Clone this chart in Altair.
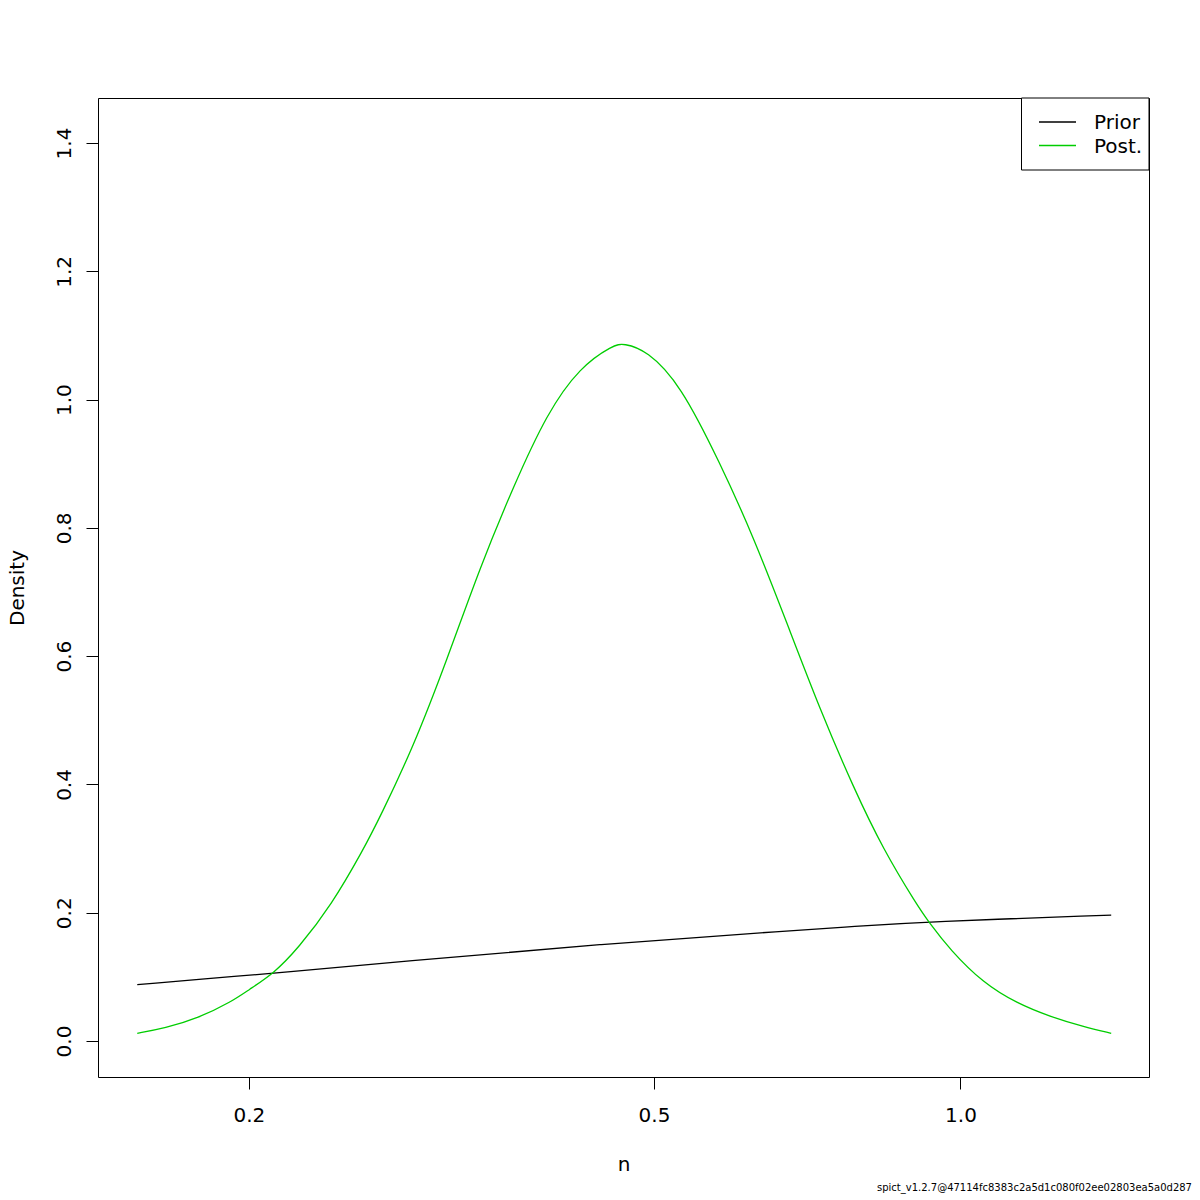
import altair as alt
import pandas as pd

# Posterior density
post_n = [0.1554, 0.1654, 0.1783, 0.1923, 0.1998, 0.2117, 0.2236, 0.2411, 0.2590, 0.2692,
          0.2902, 0.3130, 0.3375, 0.3638, 0.3924, 0.4231, 0.4561, 0.4667, 0.4920,
          0.5305, 0.5807, 0.6261, 0.6755, 0.7281, 0.7851, 0.8402, 0.9063,
          0.9302, 0.9770, 1.0534, 1.1360, 1.2247, 1.3207, 1.4061]
post_d = [0.012, 0.0198, 0.0354, 0.0613, 0.0795, 0.1056, 0.1445, 0.212, 0.2978, 0.3497,
          0.4588, 0.594, 0.7395, 0.8642, 0.9786, 1.0513, 1.0851, 1.0878, 1.0767,
          1.0244, 0.9007, 0.7863, 0.6512, 0.516, 0.3950, 0.2978, 0.212,
          0.186, 0.1419, 0.090, 0.0588, 0.0379, 0.0223, 0.012]

# Prior density
prior_n = [0.1554, 0.1998, 0.2117, 0.2817, 0.4421, 0.6960, 0.7790, 0.9302, 1.4061]
prior_d = [0.0878, 0.1026, 0.1056, 0.1236, 0.1512, 0.1731, 0.1782, 0.186, 0.1964]

series_names = ["Prior", "Post."]
series_colors = ["#000000", "#00CD00"]

x_ticks = [0.2, 0.5, 1.0]
y_ticks = [0.0, 0.2, 0.4, 0.6, 0.8, 1.0, 1.2, 1.4]
footnote = "spict_v1.2.7@47114fc8383c2a5d1c080f02ee02803ea5a0d287"

df = pd.concat([
    pd.DataFrame({"n": prior_n, "Density": prior_d, "series": series_names[0]}),
    pd.DataFrame({"n": post_n, "Density": post_d, "series": series_names[1]}),
], ignore_index=True)

FONT = "DejaVu Sans"

lines = alt.Chart(df).mark_line(strokeWidth=1.3, interpolate="basis").encode(
    x=alt.X("n:Q",
            scale=alt.Scale(type="log", domain=[0.1422, 1.5316], nice=False, zero=False),
            axis=alt.Axis(values=x_ticks, format=".1f", title="n", grid=False, domain=False,
                          tickSize=12, tickColor="black", labelColor="black",
                          labelFont=FONT, labelFontSize=20, labelBaseline="alphabetic",
                          labelPadding=32, labelFlush=False,
                          titleFont=FONT, titleFontSize=20, titleFontWeight="normal",
                          titleColor="black", titleBaseline="alphabetic", titleY=93)),
    y=alt.Y("Density:Q",
            scale=alt.Scale(domain=[-0.0561, 1.4702], nice=False, zero=False),
            axis=alt.Axis(values=y_ticks, format=".1f", title="Density", grid=False, domain=False,
                          tickSize=12, tickColor="black", labelColor="black",
                          labelFont=FONT, labelFontSize=20, labelAngle=270,
                          labelAlign="center", labelBaseline="alphabetic", labelPadding=16,
                          labelFlush=False,
                          titleFont=FONT, titleFontSize=20, titleFontWeight="normal",
                          titleColor="black", titleAngle=270, titleBaseline="alphabetic",
                          titleAlign="center", titleX=-75, titleY=489.5)),
    color=alt.Color("series:N", scale=alt.Scale(domain=series_names, range=series_colors), legend=None),
    detail="series:N",
)

leg_df = pd.DataFrame({"label": series_names})

legend_box = alt.Chart(leg_df.head(1)).mark_rect(fill="white", stroke="black", strokeWidth=1).encode(
    x=alt.value(923.5), x2=alt.value(1051), y=alt.value(0), y2=alt.value(72)
)

legend_layers = [legend_box]
for i, (name, col) in enumerate(zip(series_names, series_colors)):
    sub = leg_df.iloc[[i]]
    ly = 24 + 23.5 * i
    legend_layers.append(
        alt.Chart(sub).mark_rule(color=col, strokeWidth=1.3).encode(
            x=alt.value(941), x2=alt.value(978), y=alt.value(ly))
    )
    legend_layers.append(
        alt.Chart(sub).mark_text(align="left", baseline="alphabetic", font=FONT, fontSize=20,
                                 color="black").encode(
            x=alt.value(996), y=alt.value(ly + 7.2), text="label:N")
    )

foot = alt.Chart(pd.DataFrame({"t": [footnote]})).mark_text(
    align="right", baseline="alphabetic", font=FONT, fontSize=10, color="black"
).encode(x=alt.value(1094), y=alt.value(1093), text="t:N")

chart = alt.layer(lines, *legend_layers, foot).properties(
    width=1051, height=979,
    autosize=alt.AutoSizeParams(type="none"),
    padding={"left": 90, "top": 90, "right": 43, "bottom": 119},
    background="white",
).configure_view(stroke="black", strokeWidth=1)

chart.save("out.html", embed_options={"renderer": "svg", "actions": False})
